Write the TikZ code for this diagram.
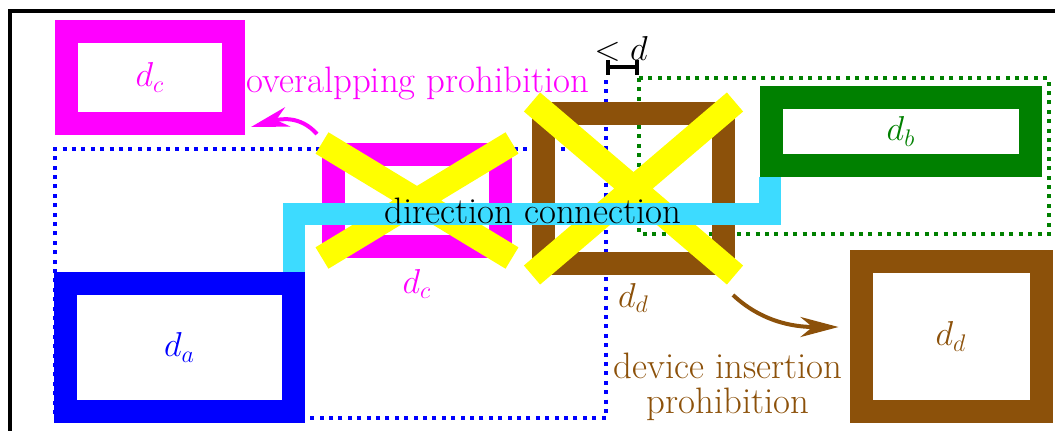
\documentclass[tikz,border=0pt]{standalone}
\usetikzlibrary{positioning,arrows.meta,calc}
\definecolor{devmagenta}{RGB}{255,0,255}
\definecolor{devbrown}{RGB}{140,81,10}
\definecolor{devgreen}{RGB}{0,128,0}
\definecolor{devblue}{RGB}{0,0,255}
\definecolor{crossyellow}{RGB}{255,255,0}
\definecolor{linkcyan}{RGB}{61,219,255}

\begin{document}
\begin{tikzpicture}[
  x=0.5pt, y=-0.5pt,
  font=\fontsize{18.4}{17.5}\selectfont,
  dev/.style={rectangle, draw, line width=11.5pt, inner sep=0pt},
  zone/.style={line width=2pt, dash pattern=on 2pt off 2.7pt},
  cross/.style={draw=crossyellow, line width=12.5pt},
  link/.style={draw=linkcyan, line width=11pt},
  arrow/.style={-{Stealth[length=19pt, width=10pt, inset=6pt]}, line width=2pt},
  tag/.style={inner sep=0pt},
]
\clip (0,0) rectangle (1055,430);
\useasboundingbox (0,0) rectangle (1055,430);

% === Allowed zones ===
\draw[zone, devblue] (606,80) -- (606,418) -- (55,418) -- (55,149) -- (606,149);
\draw[zone, devgreen] (639,78) rectangle (1049,234);

% === Frame ===
\draw[line width=2pt] (10,11) rectangle (1100,480);

% === Devices ===
\node[dev, draw=devmagenta, text=devmagenta, minimum width=83.5pt, minimum height=46pt] (dcA) at (150,77.5) {$d_c$};
\node[dev, draw=devmagenta, minimum width=83.5pt, minimum height=46pt] (dcB) at (417,200.5) {};
\node[dev, draw=devbrown, minimum width=90pt, minimum height=75pt] (ddA) at (633.5,188.5) {};
\node[dev, draw=devbrown, text=devbrown, minimum width=90pt, minimum height=75pt] (ddB) at (951,336.5) {$d_d$};
\node[dev, draw=devgreen, text=devgreen, minimum width=129.5pt, minimum height=34pt] (db) at (901,131.5) {$d_b$};
\node[dev, draw=devblue, text=devblue, minimum width=114pt, minimum height=64pt] (da) at (179.5,347.5) {$d_a$};

\node[tag, devmagenta, below=5.5pt of dcB] (dcBlbl) {$d_c$};
\node[tag, devbrown, below=4pt of ddA] (ddAlbl) {$d_d$};

% === Prohibited placements ===
\draw[cross] (dcB.north west) -- (dcB.south east) (dcB.north east) -- (dcB.south west);
\draw[cross] (ddA.north west) -- (ddA.south east) (ddA.north east) -- (ddA.south west);

% === Direction connection ===
\coordinate (linkmid) at (533,213.5);
\draw[link] ([shift={(-11.5,0)}]da.north east) |- (linkmid) -| ([shift={(10,0)}]db.south west);
\node[tag] (dirtxt) at (533,211) {direction connection};

% === Gap between zones ===
\coordinate (gapL) at (606,67);
\coordinate (gapR) at (639,67);
\draw[line width=2pt, {Bar[width=7.5pt]}-{Bar[width=7.5pt]}] (gapL) -- (gapR);
\node[tag] (gaptxt) at (621,49) {$<d$};

% === Annotations ===
\node[tag, devmagenta] (overtxt) at (418,83) {overalpping prohibition};
\draw[arrow, devmagenta] ([shift={(-5,-9)}]dcB.north west) .. controls +(-17,-19) and +(29,-8) .. ([shift={(6,-8)}]dcA.south east);

\node[tag, devbrown, align=center] (instxt) at (728,387) {device insertion\\prohibition};
\draw[arrow, devbrown] ([shift={(-2,20)}]ddA.south east) .. controls +(32,30) and +(-38,0) .. ([shift={(-11,-9.5)}]ddB.west);

\end{tikzpicture}
\end{document}
